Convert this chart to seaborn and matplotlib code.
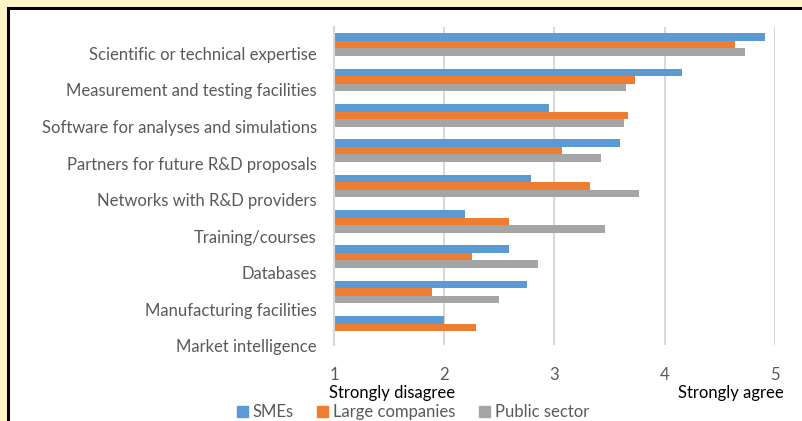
import pandas as pd
import numpy as np
import seaborn as sns
import matplotlib.pyplot as plt
from matplotlib.patches import Rectangle

categorias = ['Scientific or technical expertise', 'Measurement and testing facilities',
              'Software for analyses and simulations', 'Partners for future R&D proposals',
              'Networks with R&D providers', 'Training/courses', 'Databases',
              'Manufacturing facilities', 'Market intelligence']
smes = [4.91, 4.16, 2.95, 3.59, 2.79, 2.19, 2.59, 2.75, 2.00]
grandes = [4.64, 3.73, 3.67, 3.07, 3.32, 2.59, 2.25, 1.89, 2.29]
publico = [4.73, 3.65, 3.63, 3.42, 3.77, 3.46, 2.85, 2.50, np.nan]
grupos = ['SMEs', 'Large companies', 'Public sector']
cores = ['#5B9BD5', '#ED7D31', '#A5A5A5']
ticks_x = [1, 2, 3, 4, 5]

df = pd.DataFrame({'categoria': categorias, 'SMEs': smes,
                   'Large companies': grandes, 'Public sector': publico})
df_longo = df.melt(id_vars='categoria', var_name='grupo', value_name='valor')

plt.rcParams['font.family'] = ['Lato', 'DejaVu Sans']

fig = plt.figure(figsize=(8.03, 4.21), dpi=100)
fig.patch.set_facecolor('#FFF5C4')
# moldura branca com borda preta
fig.patches.append(Rectangle((8 / 803, -0.1), 1.1, 1.1 - 8 / 421, transform=fig.transFigure,
                             facecolor='white', edgecolor='black', linewidth=2.2, zorder=-5))

ax = fig.add_axes([334 / 803, 1 - 345 / 421, (775 - 334) / 803, (345 - 27) / 421])
ax.set_facecolor('none')
sns.barplot(data=df_longo, y='categoria', x='valor', hue='grupo', hue_order=grupos,
            palette=cores, orient='h', width=0.65, ax=ax, saturation=1, legend=False)

ax.set_xlim(1, 5)
ax.set_xticks(ticks_x)
ax.set_ylim(len(categorias) - 0.5, -0.5)
# rótulos das categorias ficam um pouco abaixo de cada grupo, como no original
ax.set_yticks([])
pos_rotulos = 0.29 + 1.034 * np.arange(len(categorias))
for y, nome in zip(pos_rotulos, categorias):
    ax.text(-17 / 441, y, nome, transform=ax.get_yaxis_transform(), ha='right', va='center',
            fontsize=12, color='#595959', clip_on=False)
ax.grid(axis='x', color='#D9D9D9', linewidth=1.5)
ax.set_axisbelow(True)
for lado in ['top', 'right', 'bottom']:
    ax.spines[lado].set_visible(False)
ax.spines['left'].set_color('#D9D9D9')
ax.spines['left'].set_linewidth(1.5)
ax.tick_params(axis='both', length=0, colors='#595959', labelsize=12)
ax.tick_params(axis='x', pad=16)
ax.set_xlabel('')
ax.set_ylabel('')

fig.text(329 / 803, 1 - 393 / 421, 'Strongly disagree', fontsize=12, color='black', va='center', ha='left')
fig.text(784 / 803, 1 - 393 / 421, 'Strongly agree', fontsize=12, color='black', va='center', ha='right')

handles = [plt.Rectangle((0, 0), 1, 1, color=c) for c in cores]
leg = fig.legend(handles, grupos, loc='center', bbox_to_anchor=(413 / 803, 1 - 412 / 421), ncol=3,
                 frameon=False, fontsize=12, handlelength=0.65, handleheight=0.65,
                 handletextpad=0.3, columnspacing=1.4, borderpad=0)
for t in leg.get_texts():
    t.set_color('#595959')

fig.savefig('out.png', dpi=100, facecolor=fig.get_facecolor())
